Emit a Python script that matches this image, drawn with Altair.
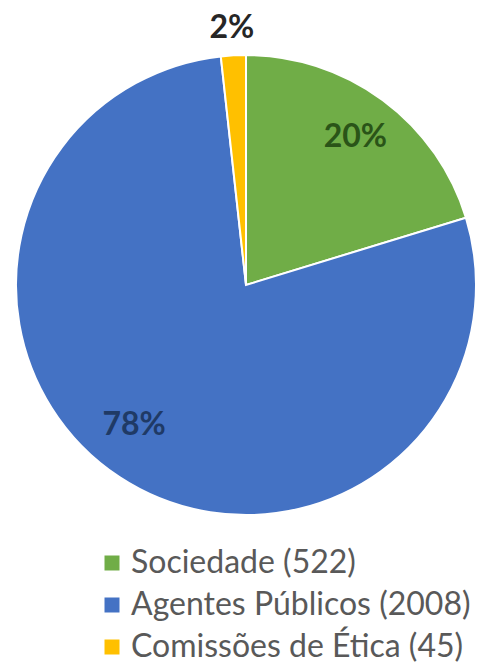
import altair as alt
import pandas as pd

categories = ["Sociedade", "Agentes Públicos", "Comissões de Ética"]
counts = [522, 2008, 45]
fill_colors = ["#70AD47", "#4472C4", "#FFC000"]
label_colors = ["#2A5418", "#1F3A66", "#262626"]

legend_labels = [f"{c} ({n})" for c, n in zip(categories, counts)]
df = pd.DataFrame({
    "cat": categories,
    "count": counts,
    "idx": list(range(len(categories))),
    "legend": legend_labels,
})

CX, CY, R = 246, 285, 230
FONT = "Lato"

base = alt.Chart(df).transform_joinaggregate(
    total="sum(count)"
).transform_calculate(
    pct="round(datum.count / datum.total * 100) + '%'"
)

pie = base.mark_arc(radius=R, stroke="white", strokeWidth=2).encode(
    theta=alt.Theta("count:Q", stack=True),
    order=alt.Order("idx:Q"),
    color=alt.Color(
        "legend:N",
        scale=alt.Scale(domain=legend_labels, range=fill_colors),
        legend=alt.Legend(
            title=None,
            orient="none",
            legendX=96,
            legendY=547,
            padding=0,
            symbolType="square",
            symbolSize=225,
            symbolStrokeWidth=0,
            labelFont=FONT,
            labelFontSize=32,
            labelColor="#595959",
            labelOffset=3,
            rowPadding=10,
            labelLimit=600,
        ),
    ),
    x=alt.value(CX),
    y=alt.value(CY),
)

label_specs = [(0, 184, 0, 0), (1, 180, -13, -10), (2, 257, 0, 0)]
layers = [pie]
for i, r, ddx, ddy in label_specs:
    t = base.transform_calculate(
        lab=f"datum.idx == {i} ? datum.pct : ''"
    ).mark_text(
        radius=r, font=FONT, fontSize=32, fontWeight="bold",
        color=label_colors[i], dx=ddx, dy=ddy, baseline="middle", align="center"
    ).encode(
        theta=alt.Theta("count:Q", stack=True),
        order=alt.Order("idx:Q"),
        text="lab:N",
        x=alt.value(CX),
        y=alt.value(CY),
    )
    layers.append(t)

chart = alt.layer(*layers).properties(
    width=486, height=667,
    autosize=alt.AutoSizeParams(type="none"),
    padding=0,
).configure_view(stroke=None)

chart.save("out.html", embed_options={"renderer": "svg", "actions": False})
